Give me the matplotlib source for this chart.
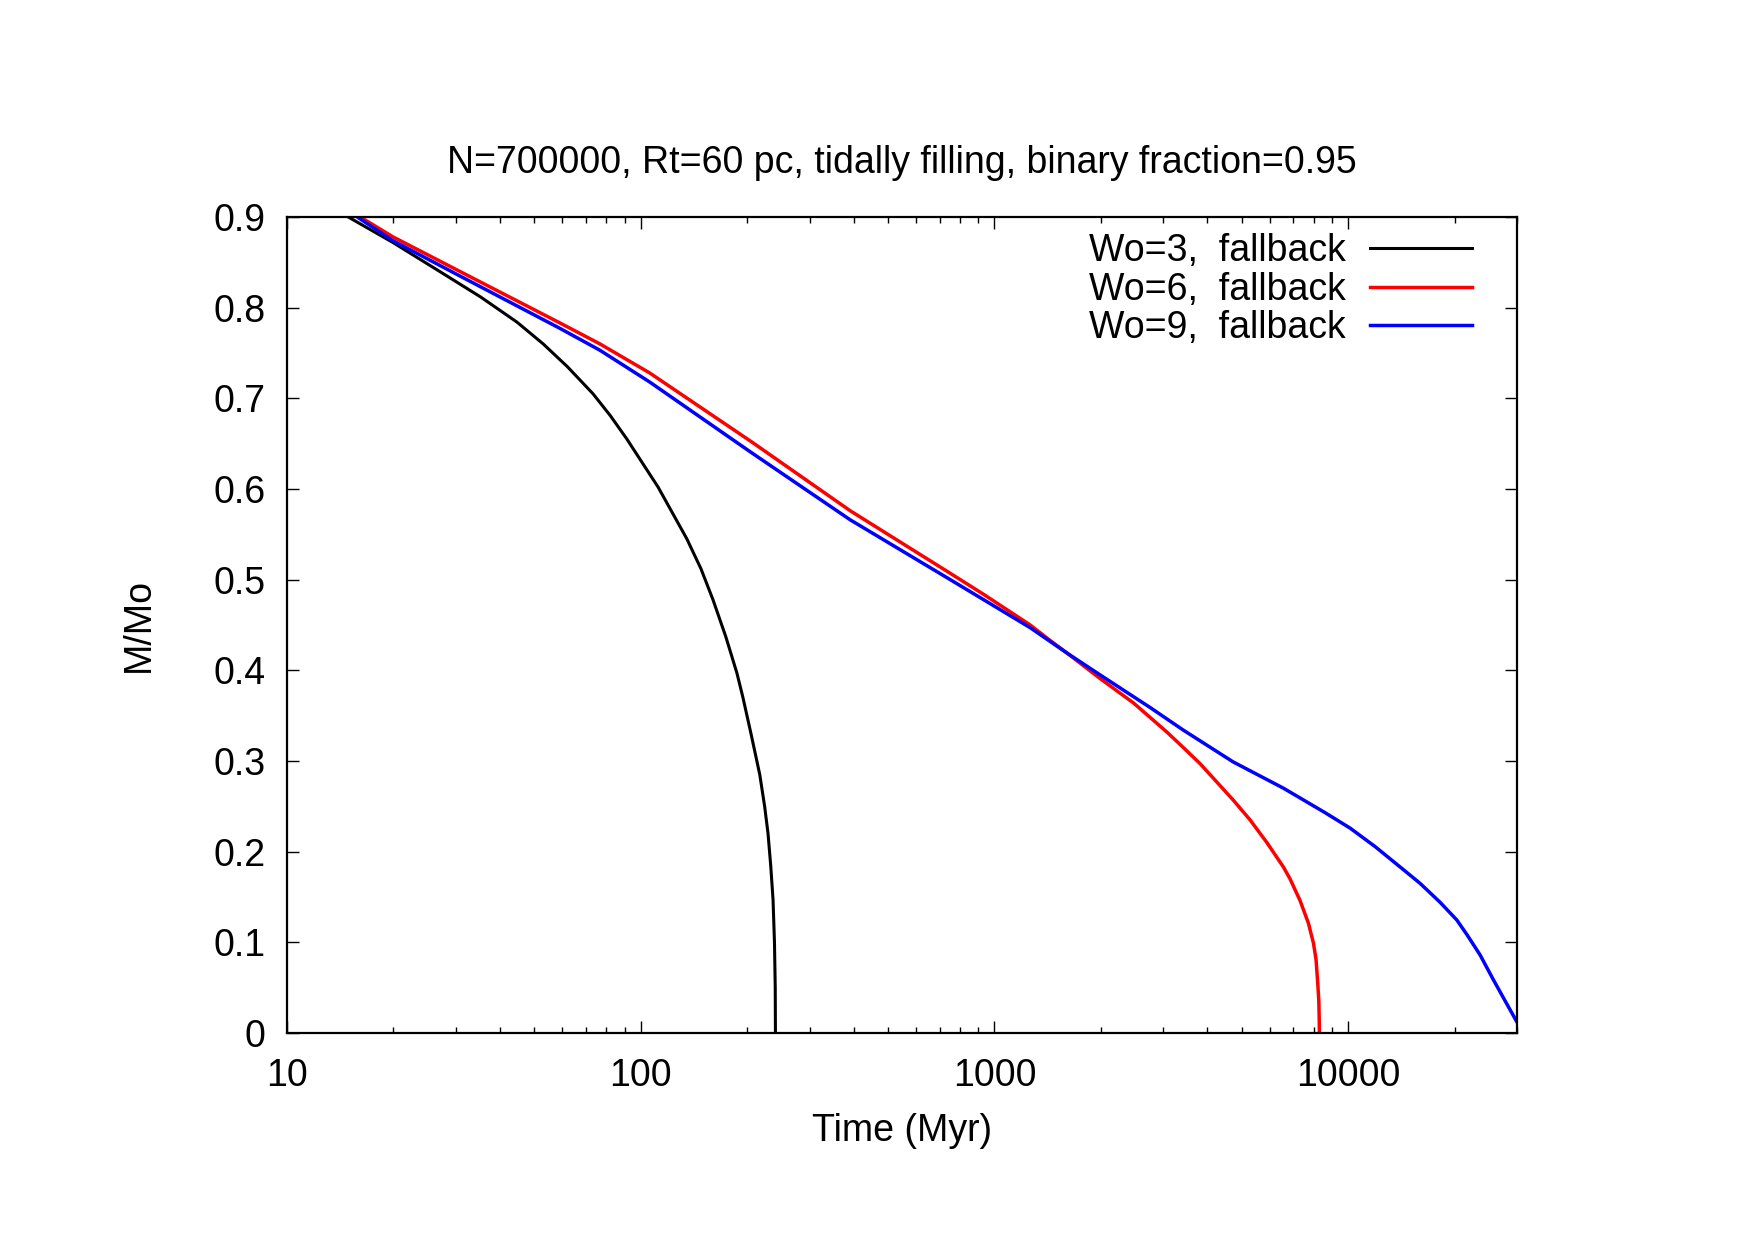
import matplotlib
matplotlib.use("Agg")
import matplotlib.pyplot as plt
from matplotlib.ticker import FixedLocator, FixedFormatter, LogLocator, NullFormatter

plt.rcParams['font.family'] = ['Liberation Sans', 'DejaVu Sans']

# ---- data ----
t_wo3 = [14.9, 19.9, 27.0, 35.2, 44.7, 53.0, 62.0, 73.3, 82.0, 91.4, 112, 135, 148, 160, 174, 187, 194.5, 205, 217,
         224, 229, 233, 236.6, 238.8, 240, 240.3]
m_wo3 = [0.900, 0.872, 0.840, 0.812, 0.784, 0.760, 0.735, 0.705, 0.681, 0.655, 0.602, 0.545, 0.512, 0.478, 0.437, 0.397, 0.370, 0.330, 0.285,
         0.250, 0.220, 0.185, 0.147, 0.100, 0.050, 0.0]

t_wo6 = [16.1, 19.95, 30.8, 59.2, 76.7, 106, 204, 391, 750, 930, 1262, 1436, 1604, 1988, 2472, 3070, 3415, 3814,
         4728, 5280, 5890, 6560, 6847, 7310, 7718, 7975, 8110, 8200, 8257, 8280, 8290]
m_wo6 = [0.900, 0.878, 0.840, 0.783, 0.760, 0.728, 0.653, 0.576, 0.507, 0.484, 0.450, 0.433, 0.419, 0.391, 0.364, 0.332, 0.315, 0.297,
         0.257, 0.235, 0.210, 0.183, 0.170, 0.146, 0.121, 0.099, 0.081, 0.055, 0.036, 0.015, 0.0]

t_wo9 = [15.8, 19.9, 30.8, 59.2, 76.7, 106, 204, 391, 750, 1262, 1604, 1988, 2754, 3420, 4728, 6560, 8603,
         10120, 11920, 14030, 15970, 18200, 20280, 21700, 23600, 25700, 28080, 30000]
m_wo9 = [0.900, 0.874, 0.835, 0.777, 0.753, 0.718, 0.641, 0.566, 0.500, 0.447, 0.419, 0.395, 0.359, 0.334, 0.299, 0.270, 0.243,
         0.226, 0.2055, 0.183, 0.165, 0.144, 0.1246, 0.108, 0.086, 0.059, 0.032, 0.012]

labels = ["Wo=3,  fallback", "Wo=6,  fallback", "Wo=9,  fallback"]
colors = ["black", "#ff0000", "#0000ff"]
widths = [2.2, 2.5, 2.5]

x_ticks = [10, 100, 1000, 10000]
x_ticklabels = ["10", "100", "1000", "10000"]
y_ticks = [0, 0.1, 0.2, 0.3, 0.4, 0.5, 0.6, 0.7, 0.8, 0.9]
y_ticklabels = ["0", "0.1", "0.2", "0.3", "0.4", "0.5", "0.6", "0.7", "0.8", "0.9"]

title = "N=700000, Rt=60 pc, tidally filling, binary fraction=0.95"
xlabel = "Time (Myr)"
ylabel = "M/Mo"

FS = 27

fig = plt.figure(figsize=(17.55, 12.40), dpi=100)
ax = fig.add_axes([287/1755, 1-1033/1240, (1517-287)/1755, (1033-217)/1240])

series = [(t_wo3, m_wo3), (t_wo6, m_wo6), (t_wo9, m_wo9)]
for (t, m), lab, c, w in zip(series, labels, colors, widths):
    ax.plot(t, m, color=c, lw=w, label=lab, solid_joinstyle='round')

ax.set_xscale('log')
ax.set_xlim(10, 30000)
ax.set_ylim(0, 0.9)

ax.xaxis.set_major_locator(FixedLocator(x_ticks))
ax.xaxis.set_major_formatter(FixedFormatter(x_ticklabels))
ax.xaxis.set_minor_locator(LogLocator(base=10, subs=range(2, 10)))
ax.xaxis.set_minor_formatter(NullFormatter())
ax.yaxis.set_major_locator(FixedLocator(y_ticks))
ax.yaxis.set_major_formatter(FixedFormatter(y_ticklabels))

ax.tick_params(axis='both', which='major', direction='in', length=8.6, width=1.0,
               top=True, right=True, labelsize=FS)
ax.tick_params(axis='x', which='major', pad=18)
ax.tick_params(axis='y', which='major', pad=15.5)
ax.tick_params(axis='x', which='minor', direction='in', length=4.3, width=1.0, top=True)
for s in ax.spines.values():
    s.set_linewidth(1.6)

leg = ax.legend(loc='upper right', bbox_to_anchor=((1472-287)/1230, (1033-233.5)/816),
                frameon=False, markerfirst=False, handlelength=2.72, handletextpad=0.64,
                labelspacing=0.06, borderpad=0, borderaxespad=0, fontsize=FS)
for h, w in zip(leg.get_lines(), widths):
    h.set_linewidth(w)

fig.text(902/1755, 1-163/1240, title, ha='center', va='center', fontsize=FS)
fig.text(902/1755, 1-1131/1240, xlabel, ha='center', va='center', fontsize=FS)
fig.text(139/1755, 1-625/1240, ylabel, ha='center', va='center', rotation=90, fontsize=FS)

fig.savefig("out.png", dpi=100)
